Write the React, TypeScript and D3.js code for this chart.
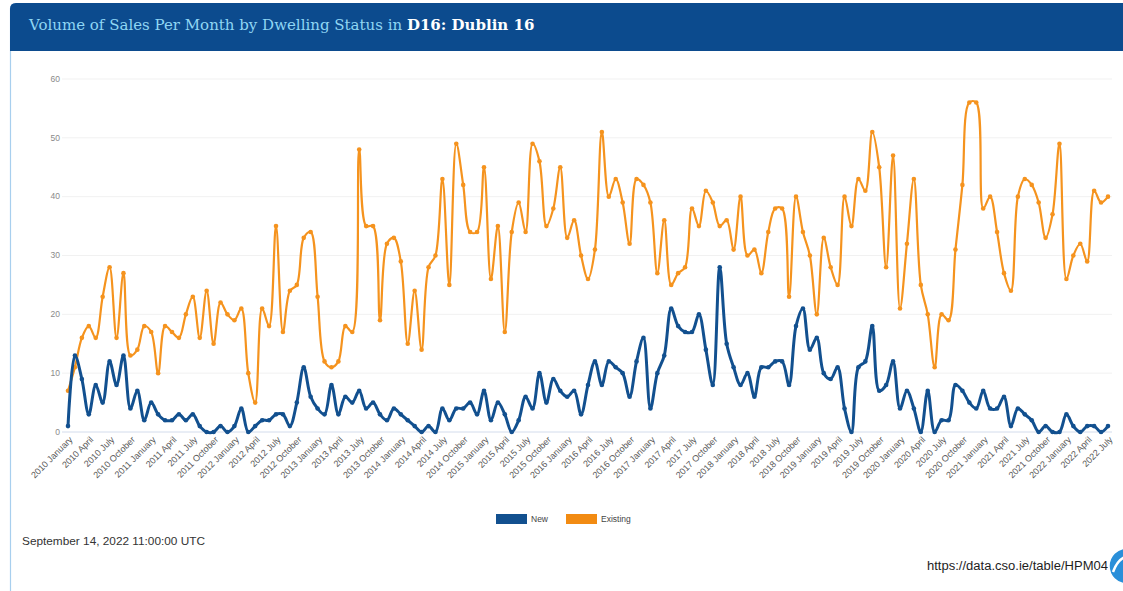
import React from "react";
import * as d3 from "d3";

// Monthly sales volumes, Dublin 16, January 2010 to July 2022
const START_YEAR = 2010;
const MONTH_NAMES = [
  "January", "February", "March", "April", "May", "June",
  "July", "August", "September", "October", "November", "December",
];

const existingSales = [
  7, 11, 16, 18, 16, 23, 28, 16, 27, 13, 14, 18, // 2010
  17, 10, 18, 17, 16, 20, 23, 16, 24, 15, 22, 20, // 2011
  19, 21, 10, 5, 21, 18, 35, 17, 24, 25, 33, 34, // 2012
  23, 12, 11, 12, 18, 17, 48, 35, 35, 19, 32, 33, // 2013
  29, 15, 24, 14, 28, 30, 43, 25, 49, 42, 34, 34, // 2014
  45, 26, 35, 17, 34, 39, 34, 49, 46, 35, 38, 45, // 2015
  33, 36, 30, 26, 31, 51, 40, 43, 39, 32, 43, 42, // 2016
  39, 27, 36, 25, 27, 28, 38, 35, 41, 39, 35, 36, // 2017
  31, 40, 30, 31, 27, 34, 38, 38, 23, 40, 34, 30, // 2018
  20, 33, 28, 25, 40, 35, 43, 41, 51, 45, 28, 47, // 2019
  21, 32, 43, 25, 20, 11, 20, 19, 31, 42, 56, 56, // 2020
  38, 40, 34, 27, 24, 40, 43, 42, 39, 33, 37, 49, // 2021
  26, 30, 32, 29, 41, 39, 40, // 2022
];

const newSales = [
  1, 13, 9, 3, 8, 5, 12, 8, 13, 4, 7, 2, // 2010
  5, 3, 2, 2, 3, 2, 3, 1, 0, 0, 1, 0, // 2011
  1, 4, 0, 1, 2, 2, 3, 3, 1, 5, 11, 6, // 2012
  4, 3, 8, 3, 6, 5, 7, 4, 5, 3, 2, 4, // 2013
  3, 2, 1, 0, 1, 0, 4, 2, 4, 4, 5, 3, // 2014
  7, 2, 5, 3, 0, 2, 6, 4, 10, 5, 9, 7, // 2015
  6, 7, 3, 8, 12, 8, 12, 11, 10, 6, 12, 16, // 2016
  4, 10, 13, 21, 18, 17, 17, 20, 14, 8, 28, 15, // 2017
  11, 8, 10, 6, 11, 11, 12, 12, 8, 18, 21, 14, // 2018
  16, 10, 9, 11, 4, 0, 11, 12, 18, 7, 8, 12, // 2019
  4, 7, 4, 0, 7, 0, 2, 2, 8, 7, 5, 4, // 2020
  7, 4, 4, 6, 1, 4, 3, 2, 0, 1, 0, 0, // 2021
  3, 1, 0, 1, 1, 0, 1, // 2022
];

const yTicks = [0, 10, 20, 30, 40, 50, 60];

const categories = existingSales.map(
  (_, i) => `${START_YEAR + Math.floor(i / 12)} ${MONTH_NAMES[i % 12]}`
);

const series = [
  { name: "New", values: newSales, color: "#12508f", width: 3 },
  { name: "Existing", values: existingSales, color: "#f5931e", width: 2.2 },
];

const W = 1123;
const H = 591;

export default function App() {
  const x = d3
    .scalePoint<string>()
    .domain(categories)
    .range([68, 1108]);
  const y = d3.scaleLinear().domain([0, 60]).range([432, 79]);

  const line = d3
    .line<number>()
    .x((_, i) => x(categories[i]) as number)
    .y((d) => y(d))
    .curve(d3.curveCatmullRom.alpha(0.5));

  const labelFont = "'Liberation Sans', Arial, sans-serif";
  const titleFont = "'DejaVu Serif', serif";

  return (
    <svg
      width={W}
      height={H}
      style={{ position: "absolute", left: 0, top: 0, background: "#fff" }}
    >
      <rect x={0} y={0} width={W} height={H} fill="#ffffff" />

      {/* card outline */}
      <rect
        x={10.5}
        y={3.5}
        width={W + 20}
        height={H + 20}
        rx={5}
        fill="#ffffff"
        stroke="#a8cfee"
        strokeWidth={1.2}
      />
      {/* header band */}
      <path
        d={`M10,9 Q10,3 16,3 L${W},3 L${W},51 L10,51 Z`}
        fill="#0c4b8e"
      />
      <text x={29} y={30} fontFamily={titleFont} fontSize={15}>
        <tspan fill="#8fd6f4">Volume of Sales Per Month by Dwelling Status in </tspan>
        <tspan fill="#ffffff" fontWeight="bold">D16: Dublin 16</tspan>
      </text>

      {/* horizontal grid */}
      {yTicks.slice(1).map((t) => (
        <line
          key={`g${t}`}
          x1={62}
          x2={1112}
          y1={y(t)}
          y2={y(t)}
          stroke="#f1f1f1"
          strokeWidth={1}
        />
      ))}
      <line x1={62} x2={1112} y1={y(0)} y2={y(0)} stroke="#d3dcec" strokeWidth={1} />

      {/* y axis labels */}
      {yTicks.map((t) => (
        <text
          key={`y${t}`}
          x={60}
          y={y(t)}
          dy="0.32em"
          textAnchor="end"
          fontFamily={labelFont}
          fontSize={8.5}
          fill="#8a8a8a"
        >
          {t}
        </text>
      ))}

      {/* x axis labels, quarterly */}
      {categories.map((c, i) =>
        i % 3 === 0 ? (
          <text
            key={`x${i}`}
            transform={`translate(${(x(c) as number) + 3},${438}) rotate(-45)`}
            textAnchor="end"
            dy="0.35em"
            fontFamily={labelFont}
            fontSize={9}
            fill="#5a5a5a"
          >
            {c}
          </text>
        ) : null
      )}

      {/* series lines and markers */}
      {series
        .slice()
        .reverse()
        .map((s) => (
          <g key={s.name}>
            <path
              d={line(s.values) || ""}
              fill="none"
              stroke={s.color}
              strokeWidth={s.width}
              strokeLinejoin="round"
            />
            {s.values.map((v, i) => (
              <circle
                key={i}
                cx={x(categories[i]) as number}
                cy={y(v)}
                r={2.3}
                fill={s.color}
              />
            ))}
          </g>
        ))}

      {/* legend */}
      <g fontFamily={labelFont} fontSize={8.5} fill="#444">
        <rect x={496} y={514} width={31} height={10} fill={series[0].color} />
        <text x={531} y={522}>{series[0].name}</text>
        <rect x={566} y={514} width={31} height={10} fill="#f28b12" />
        <text x={601} y={522}>{series[1].name}</text>
      </g>

      {/* footer */}
      <text
        x={22}
        y={545}
        fontFamily={labelFont}
        fontSize={11.5}
        fill="#333"
        textLength={183}
        lengthAdjust="spacingAndGlyphs"
      >
        September 14, 2022 11:00:00 UTC
      </text>
      <text
        x={927}
        y={570}
        fontFamily={labelFont}
        fontSize={12.5}
        fill="#1d1d1d"
        textLength={181}
        lengthAdjust="spacingAndGlyphs"
      >
        https://data.cso.ie/table/HPM04
      </text>
      <circle cx={1127} cy={566} r={18} fill="#2a8fd9" stroke="#ffffff" strokeWidth={1.5} />
      <path d="M1113,572 Q1118,558 1128,556" fill="none" stroke="#ffffff" strokeWidth={2.5} />
    </svg>
  );
}
